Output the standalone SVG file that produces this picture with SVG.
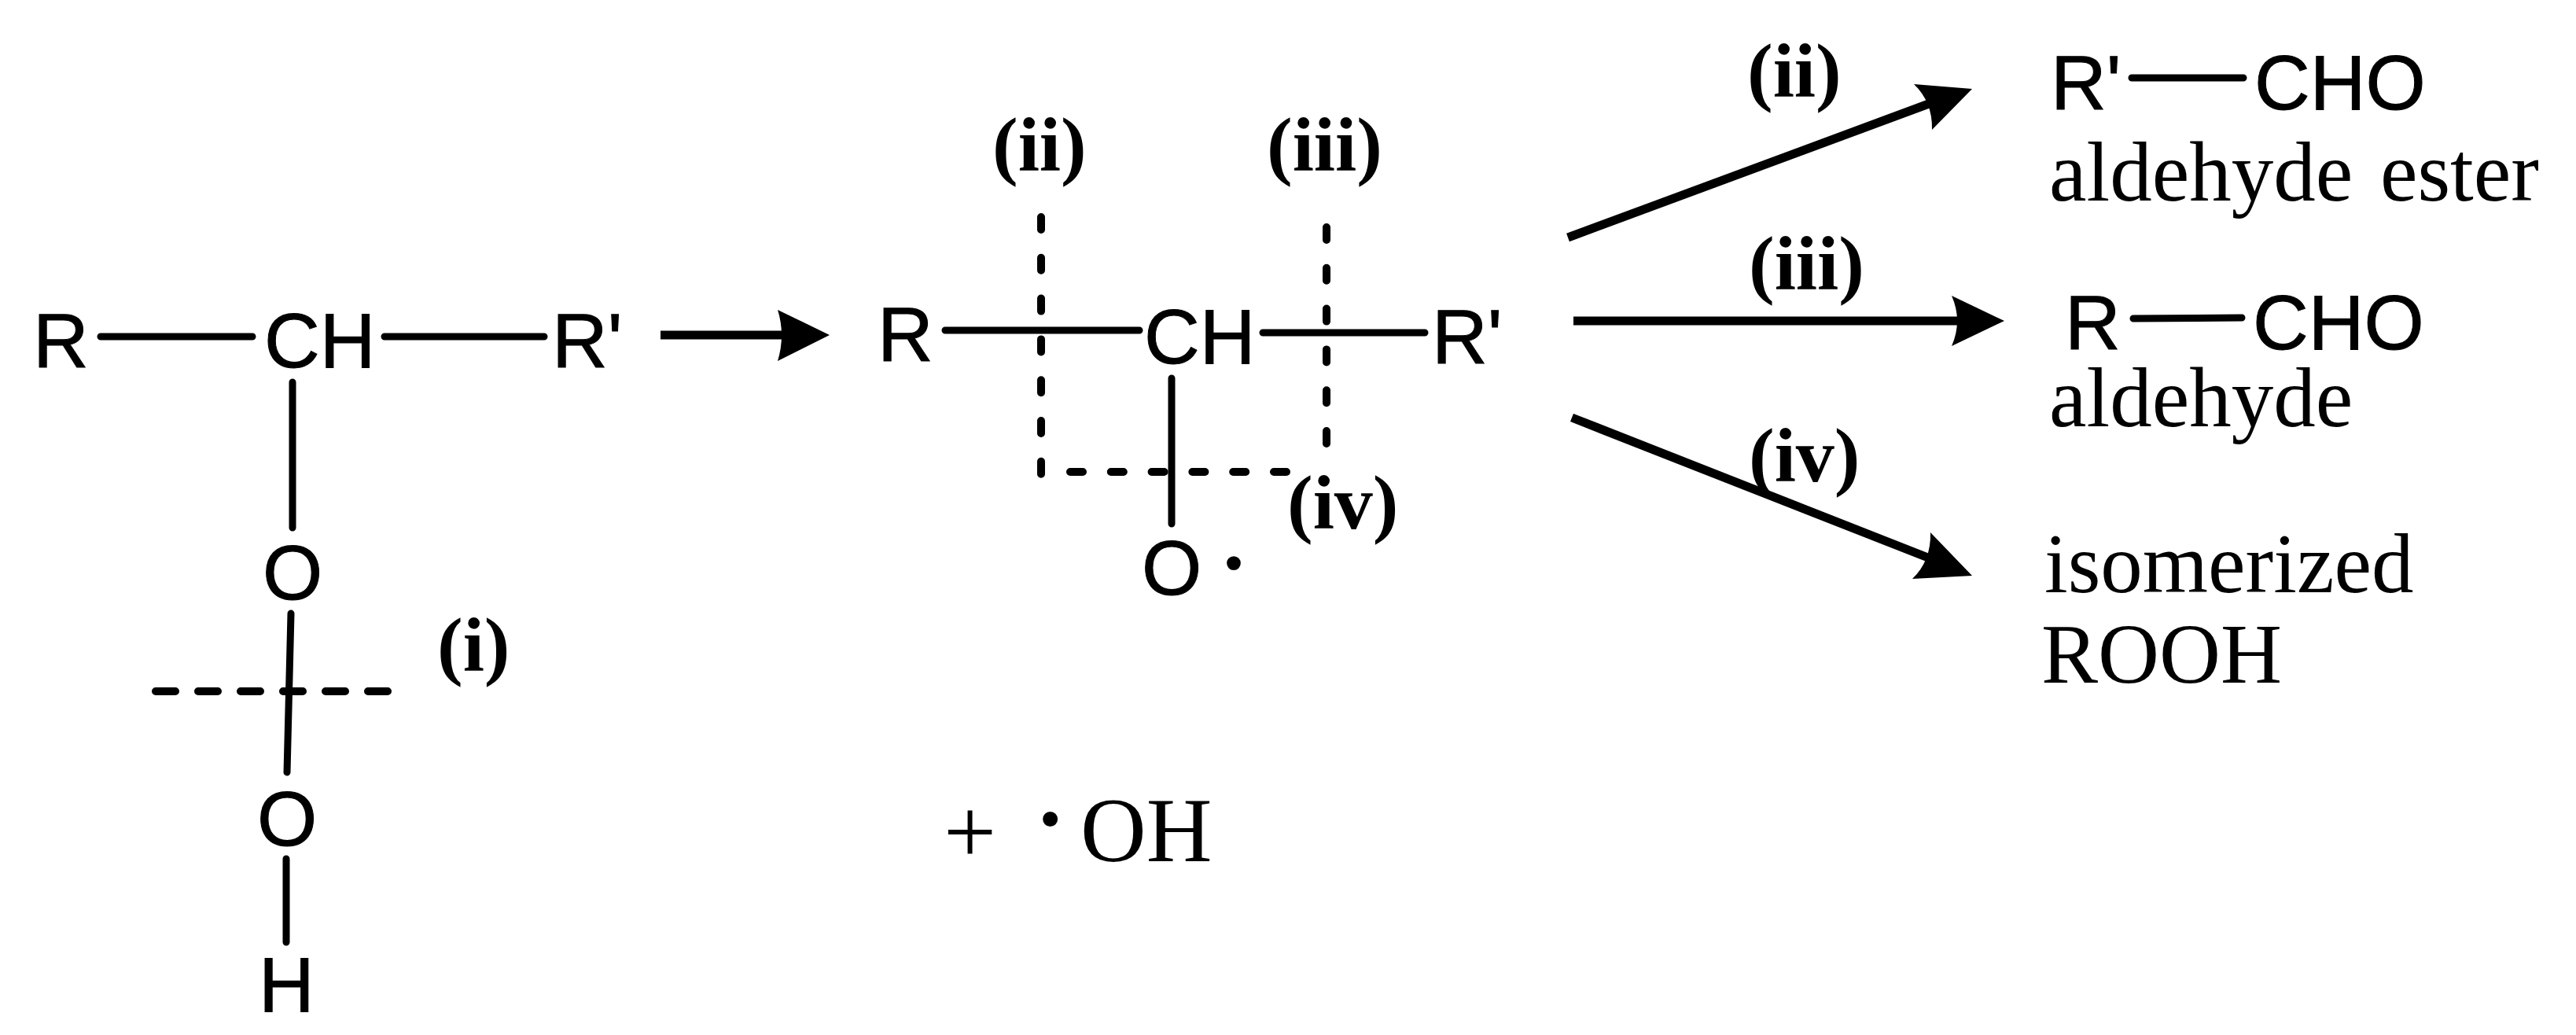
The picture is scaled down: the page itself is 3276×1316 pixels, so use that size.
<svg xmlns="http://www.w3.org/2000/svg" width="3276" height="1316" viewBox="0 0 3276 1316">
<style>
.a{font-family:"Liberation Sans",Arial,sans-serif;font-size:98px;fill:#000;stroke:#000;stroke-width:1}
.s{font-family:"Liberation Serif","Times New Roman",serif;font-size:107px;fill:#000}
.l{font-family:"Liberation Serif","Times New Roman",serif;font-size:98px;font-weight:bold;fill:#000}
.o{font-family:"Liberation Serif","Times New Roman",serif;font-size:115px;fill:#000}
.b{stroke:#000;stroke-width:9;stroke-linecap:round;fill:none}
.d{stroke:#000;stroke-width:10;stroke-linecap:round;fill:none;stroke-dasharray:16 35.8}
.d2{stroke:#000;stroke-width:10;stroke-linecap:round;fill:none;stroke-dasharray:25 29}
.r{stroke:#000;stroke-width:11;fill:none}
.h{fill:#000;stroke:none}
</style>
<rect width="3276" height="1316" fill="#fff"/>
<g id="connectors">
<path class="b" d="M128 428H321M489 428H692M372 486V671M370 780L365 982M364 1092V1198"/>
<path class="d2" d="M198 879H495"/>
<path class="b" d="M1202 420H1449M1606 423H1812M1490 481V666"/>
<path class="d" d="M1324 276V607M1687 289V566M1361 600H1641"/>
<path class="b" d="M2711 99H2853M2713 405L2851 404"/>
<path class="r" d="M840 426H998"/>
<path class="h" d="M1055 426L989 394Q999 426 989 459Z"/>
<path class="r" d="M1994 302L2461 129"/>
<path class="h" d="M2508 113L2434 107Q2458 130 2457 165Z"/>
<path class="r" d="M2001 408H2498"/>
<path class="h" d="M2549 408L2482 376Q2496 408 2482 440Z"/>
<path class="r" d="M1999 531L2462 713"/>
<path class="h" d="M2508 732L2455 677Q2456 713 2432 736Z"/>
</g>
<g id="reactant">
<text class="a" x="42" y="467">R</text>
<text class="a" x="336" y="467">CH</text>
<text class="a" x="702" y="467">R'</text>
<text class="a" x="334" y="762">O</text>
<text class="a" x="327" y="1075">O</text>
<text class="a" x="329" y="1286">H</text>
<text class="l" x="556" y="853">(i)</text>
</g>
<g id="intermediate">
<text class="a" x="1116" y="459">R</text>
<text class="a" x="1455" y="462">CH</text>
<text class="a" x="1821" y="462">R'</text>
<text class="a" x="1452" y="756">O</text>
<text class="o" x="1544" y="766" style="font-size:150px">·</text>
<text class="l" x="1262" y="217">(ii)</text>
<text class="l" x="1611" y="217">(iii)</text>
<text class="l" x="1637" y="672">(iv)</text>
</g>
<g id="hydroxyl">
<text class="o" x="1200" y="1098" style="font-size:119px">+</text>
<text class="o" x="1309" y="1095" style="font-size:160px">·</text>
<text class="o" x="1374" y="1095" style="font-size:116px">OH</text>
</g>
<g id="product-aldehyde-ester">
<text class="l" x="2222" y="123">(ii)</text>
<text class="a" x="2608" y="139">R'</text>
<text class="a" x="2867" y="139">CHO</text>
<text class="s" x="2606" y="255" style="word-spacing:8px">aldehyde ester</text>
</g>
<g id="product-aldehyde">
<text class="l" x="2224" y="368">(iii)</text>
<text class="a" x="2626" y="444">R</text>
<text class="a" x="2865" y="444">CHO</text>
<text class="s" x="2606" y="542">aldehyde</text>
</g>
<g id="product-rooh">
<text class="l" x="2224" y="612">(iv)</text>
<text class="s" x="2600" y="753">isomerized</text>
<text class="s" x="2596" y="868" style="font-size:108px">ROOH</text>
</g>
</svg>
